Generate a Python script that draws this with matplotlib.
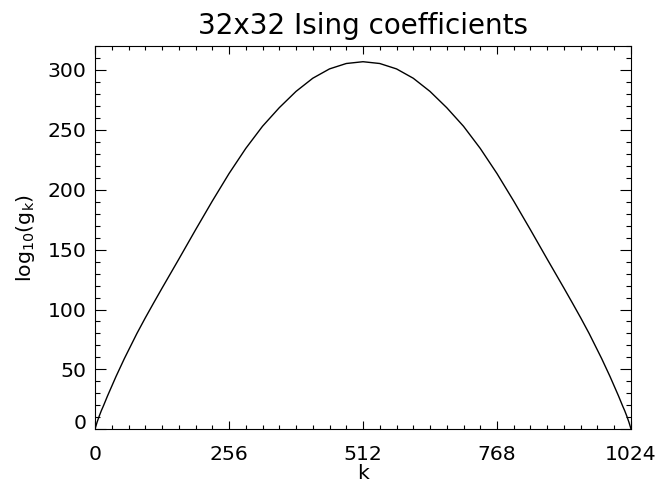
import matplotlib
matplotlib.use('Agg')
import matplotlib.pyplot as plt
from matplotlib.ticker import MultipleLocator

plt.rcParams['font.family'] = ['DejaVu Sans']
plt.rcParams['mathtext.default'] = 'regular'

# values
k = [0, 4, 8, 12, 16, 24, 32, 40, 48, 56, 64, 80, 96, 112, 128, 160, 192,
     224, 256, 288, 320, 352, 384, 416, 448, 480, 512,
     544, 576, 608, 640, 672, 704, 736, 768, 800, 832, 864, 896, 912, 928,
     944, 960, 968, 976, 984, 992, 1000, 1008, 1012, 1016, 1020, 1024]
log_g = [0.3, 6, 11, 15.5, 19.5, 28, 36, 44, 51.5, 59, 66, 80, 93, 105.5,
         117.8, 142, 166.5, 190.5, 213.5, 234.5, 253, 268.5, 282.1, 293.1,
         300.9, 305.4, 306.9,
         305.4, 300.9, 293.1, 282.1, 268.5, 253, 234.5, 213.5, 190.5, 166.5,
         142, 117.8, 105.5, 93, 80, 66, 59, 51.5, 44, 36, 28, 19.5, 15.5,
         11, 6, 0.3]

x_ticks = [0, 256, 512, 768, 1024]
y_ticks = [0, 50, 100, 150, 200, 250, 300]

fig = plt.figure(figsize=(6.59, 4.87), dpi=100)
ax = fig.add_axes([0.1442, 0.1185, 0.8133, 0.787])

ax.plot(k, log_g, color='black', linewidth=1.0)

ax.set_xlim(0, 1024)
ax.set_ylim(0, 320)
ax.set_xticks(x_ticks)
ax.set_yticks(y_ticks)
ax.xaxis.set_minor_locator(MultipleLocator(32))
ax.yaxis.set_minor_locator(MultipleLocator(10))

ax.tick_params(which='both', direction='in', top=True, right=True,
               width=0.8, colors='black', labelsize=14.7)
ax.tick_params(axis='x', which='major', length=5.8, pad=11)
ax.tick_params(axis='x', which='minor', length=2.9)
ax.tick_params(axis='y', which='major', length=7.9, pad=6)
ax.tick_params(axis='y', which='minor', length=3.6)

for s in ax.spines.values():
    s.set_linewidth(0.8)

# the zero label sits a bit above the axis, like the original
ax.get_yticklabels()[0].set_va('baseline')

ax.set_title('32x32 Ising coefficients', fontsize=20, pad=9)
ax.set_xlabel('k', fontsize=14.7, labelpad=0)
ax.set_ylabel(r'log$_{10}$(g$_{k}$)', fontsize=14.7, labelpad=8)

fig.savefig('out.png', dpi=100)
